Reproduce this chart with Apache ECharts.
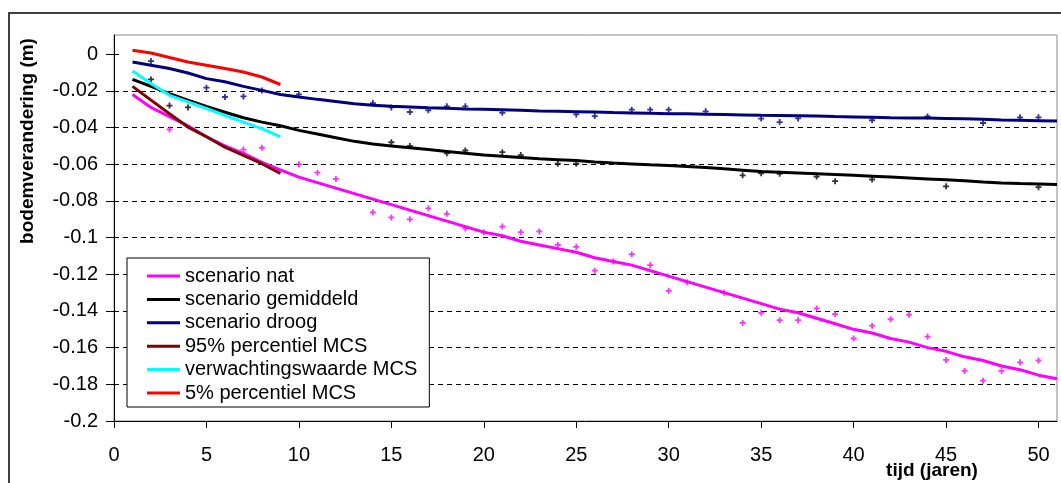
<!DOCTYPE html>
<html>
<head>
<meta charset="utf-8">
<script src="https://cdn.jsdelivr.net/npm/echarts@6/dist/echarts.min.js"></script>
<style>
html,body{margin:0;padding:0;background:#fff;}
#chart{width:1061px;height:483px;}
</style>
</head>
<body>
<div id="chart"></div>
<script>
// ---- data ----
const years = [1,2,3,4,5,6,7,8,9,10,11,12,13,14,15,16,17,18,19,20,21,22,23,24,25,26,27,28,29,30,31,32,33,34,35,36,37,38,39,40,41,42,43,44,45,46,47,48,49,50,51];
const mcsYears = [1,2,3,4,5,6,7,8,9];

const scenarioNat = [-0.022,-0.029,-0.034,-0.039,-0.045,-0.050,-0.054,-0.059,-0.063,-0.067,-0.070,-0.073,-0.076,-0.079,-0.082,-0.085,-0.088,-0.091,-0.094,-0.097,-0.099,-0.102,-0.104,-0.106,-0.108,-0.111,-0.113,-0.115,-0.118,-0.121,-0.124,-0.127,-0.130,-0.133,-0.136,-0.139,-0.141,-0.144,-0.147,-0.150,-0.152,-0.155,-0.157,-0.160,-0.162,-0.165,-0.167,-0.170,-0.172,-0.175,-0.177];
const scenarioGemiddeld = [-0.0137,-0.0175,-0.0215,-0.025,-0.0284,-0.0316,-0.0346,-0.037,-0.039,-0.0415,-0.0435,-0.0455,-0.0475,-0.049,-0.050,-0.051,-0.052,-0.053,-0.054,-0.055,-0.0556,-0.0563,-0.057,-0.0575,-0.058,-0.0587,-0.0593,-0.0598,-0.0603,-0.0607,-0.0612,-0.0617,-0.0625,-0.0632,-0.064,-0.0644,-0.0648,-0.0652,-0.0656,-0.066,-0.0665,-0.067,-0.0675,-0.068,-0.0685,-0.069,-0.0697,-0.0702,-0.0705,-0.0707,-0.071];
const scenarioDroog = [-0.0042,-0.006,-0.0078,-0.0102,-0.0133,-0.015,-0.0175,-0.0197,-0.0219,-0.0233,-0.0246,-0.0258,-0.027,-0.0278,-0.0284,-0.0288,-0.0292,-0.0295,-0.0298,-0.030,-0.0303,-0.0306,-0.0309,-0.0311,-0.0313,-0.0315,-0.0318,-0.032,-0.0322,-0.0324,-0.0325,-0.0327,-0.0329,-0.0331,-0.0333,-0.0334,-0.0335,-0.0337,-0.034,-0.0342,-0.0344,-0.0346,-0.0347,-0.0348,-0.035,-0.0352,-0.0355,-0.0358,-0.036,-0.0362,-0.0364];
const mcs95 = [-0.0175,-0.025,-0.0324,-0.0397,-0.045,-0.0507,-0.0552,-0.0597,-0.065];
const mcsVerwachting = [-0.0091,-0.016,-0.0224,-0.026,-0.0296,-0.0333,-0.037,-0.0406,-0.045];
const mcs5 = [0.0022,0.0007,-0.0018,-0.0042,-0.006,-0.0078,-0.0097,-0.0124,-0.0165];

// annual "+" points scattered around the scenario curves [year, value]
const natPoints = [[3,-0.041],[7,-0.052],[8,-0.051],[10,-0.060],[11,-0.0646],[12,-0.068],[14,-0.0862],[15,-0.089],[16,-0.090],[17,-0.084],[18,-0.087],[19,-0.095],[20,-0.097],[21,-0.094],[22,-0.097],[23,-0.0966],[24,-0.104],[25,-0.105],[26,-0.118],[27,-0.113],[28,-0.109],[29,-0.115],[30,-0.129],[31,-0.1244],[33,-0.130],[34,-0.1465],[35,-0.141],[36,-0.145],[37,-0.145],[38,-0.1386],[39,-0.1417],[40,-0.155],[41,-0.148],[42,-0.1445],[43,-0.142],[44,-0.154],[45,-0.1667],[46,-0.1727],[47,-0.178],[48,-0.1727],[49,-0.168],[50,-0.167]];
const gemPoints = [[2,-0.0137],[3,-0.028],[4,-0.029],[15,-0.048],[16,-0.050],[18,-0.054],[19,-0.0525],[21,-0.0534],[22,-0.055],[24,-0.0597],[25,-0.0597],[34,-0.066],[35,-0.0649],[36,-0.0652],[38,-0.0667],[39,-0.0692],[41,-0.0683],[45,-0.072],[50,-0.0725]];
const droogPoints = [[2,-0.0037],[5,-0.0182],[6,-0.0233],[7,-0.023],[8,-0.0197],[10,-0.0219],[14,-0.0266],[15,-0.029],[16,-0.0315],[17,-0.0306],[18,-0.0284],[19,-0.0284],[21,-0.0319],[25,-0.0328],[26,-0.0337],[28,-0.0302],[29,-0.0302],[30,-0.0302],[32,-0.0311],[35,-0.0351],[36,-0.037],[37,-0.035],[41,-0.036],[44,-0.0339],[47,-0.0375],[49,-0.0344],[50,-0.0344]];

const seriesNames = ['scenario nat','scenario gemiddeld','scenario droog','95% percentiel MCS','verwachtingswaarde MCS','5% percentiel MCS'];
const seriesColors = ['#FF00FF','#000000','#000080','#800000','#00FFFF','#FF0000'];
const xTicks = [0,5,10,15,20,25,30,35,40,45,50];
const yTicks = [-0.2,-0.18,-0.16,-0.14,-0.12,-0.1,-0.08,-0.06,-0.04,-0.02,0];

// ---- chart ----
const zip = (xs, ys) => xs.map((x, i) => [x, ys[i]]);
const plus = 'path://M1.75,0H3.25V1.75H5V3.25H3.25V5H1.75V3.25H0V1.75H1.75Z';
const FONT = 'Liberation Sans, Arial, sans-serif';

function lineSeries(name, color, data) {
  return {
    name, type: 'line', data, symbol: 'none', smooth: false,
    lineStyle: { color, width: 3 }, itemStyle: { color }, z: 3,
    emphasis: { disabled: true }
  };
}
function pointSeries(name, color, data) {
  return {
    name, type: 'scatter', data, symbol: plus, symbolSize: 6,
    itemStyle: { color }, z: 2, emphasis: { disabled: true }
  };
}

const chart = echarts.init(document.getElementById('chart'));
chart.setOption({
  animation: false,
  backgroundColor: '#ffffff',
  textStyle: { fontFamily: FONT },
  grid: {
    left: 114, top: 35, right: 4, bottom: 62,
    show: true, borderColor: '#8c8c8c', borderWidth: 1, backgroundColor: '#ffffff'
  },
  xAxis: {
    type: 'value', min: 0, max: 51, interval: 5,
    axisLine: { show: true, onZero: false, lineStyle: { color: '#000', width: 1 } },
    axisTick: { show: true, length: 7, customValues: xTicks, lineStyle: { color: '#000' } },
    axisLabel: { customValues: xTicks, margin: 24, color: '#000', fontSize: 20, fontFamily: FONT },
    splitLine: { show: false }
  },
  yAxis: [{
    type: 'value', min: -0.2, max: 0.0105, interval: 0.02,
    axisLine: { show: true, onZero: false, lineStyle: { color: '#000', width: 1 } },
    axisTick: { show: true, length: 8, customValues: yTicks, lineStyle: { color: '#000' } },
    axisLabel: {
      customValues: yTicks, margin: 16, color: '#000', fontSize: 20, fontFamily: FONT,
      formatter: v => (v > 0.001 ? '' : String(Math.round(v * 100) / 100))
    },
    splitLine: { show: true, showMinLine: false, showMaxLine: false, lineStyle: { color: '#000', type: [5, 4], width: 1 } }
  }, {
    type: 'value', min: -0.2, max: 0.0105, interval: 0.02, position: 'left',
    axisLine: { show: false },
    axisTick: { show: true, inside: true, length: 5, customValues: yTicks, lineStyle: { color: '#000' } },
    axisLabel: { show: false },
    splitLine: { show: false }
  }],
  legend: {
    data: seriesNames,
    orient: 'vertical', left: 127, top: 258,
    backgroundColor: '#ffffff', borderColor: '#000', borderWidth: 1,
    padding: [8, 12, 4, 20],
    icon: 'rect', itemWidth: 33, itemHeight: 3, itemGap: 3.4,
    textStyle: { fontSize: 20, lineHeight: 20, color: '#000', fontFamily: FONT },
    selectedMode: false
  },
  graphic: [
    { type: 'rect', z: -10, silent: true, shape: { x: 9, y: 13, width: 1200, height: 600 },
      style: { fill: 'none', stroke: '#404040', lineWidth: 2 } },
    { type: 'text', silent: true, x: 28, y: 141, rotation: Math.PI / 2,
      style: { text: 'bodemverandering (m)', font: 'bold 19px ' + FONT, fill: '#000', align: 'center', verticalAlign: 'middle' } },
    { type: 'text', silent: true, x: 932, y: 471,
      style: { text: 'tijd (jaren)', font: 'bold 19px ' + FONT, fill: '#000', align: 'center', verticalAlign: 'middle' } }
  ],
  series: [
    lineSeries(seriesNames[0], seriesColors[0], zip(years, scenarioNat)),
    lineSeries(seriesNames[1], seriesColors[1], zip(years, scenarioGemiddeld)),
    lineSeries(seriesNames[2], seriesColors[2], zip(years, scenarioDroog)),
    lineSeries(seriesNames[3], seriesColors[3], zip(mcsYears, mcs95)),
    lineSeries(seriesNames[4], seriesColors[4], zip(mcsYears, mcsVerwachting)),
    lineSeries(seriesNames[5], seriesColors[5], zip(mcsYears, mcs5)),
    pointSeries('nat punten', seriesColors[0], natPoints),
    pointSeries('gemiddeld punten', seriesColors[1], gemPoints),
    pointSeries('droog punten', seriesColors[2], droogPoints)
  ]
});
</script>
</body>
</html>
